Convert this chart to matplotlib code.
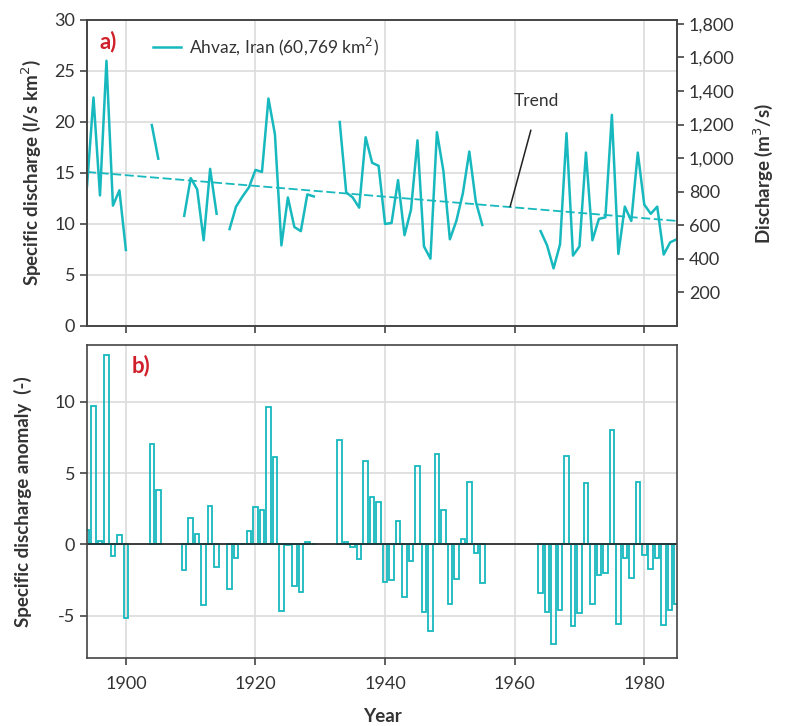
import numpy as np
import matplotlib
matplotlib.use("Agg")
import matplotlib.pyplot as plt
from matplotlib.ticker import FuncFormatter

plt.rcParams['font.family'] = ['Lato', 'DejaVu Sans']

years = list(range(1894, 1986))
nan = np.nan
specific_q = [13.7, 22.4, 12.8, 26.0, 11.8, 13.3, 7.45, nan, nan, nan,
              19.7, 16.4, nan, nan, nan, 10.8, 14.5, 13.4, 8.4, 15.4,
              11.0, nan, 9.5, 11.7, 12.7, 13.6, 15.3, 15.1, 22.3, 18.8,
              7.9, 12.6, 9.7, 9.3, 12.9, 12.7, nan, nan, nan, 20.0,
              13.1, 12.6, 11.6, 18.5, 16.0, 15.7, 10.0, 10.1, 14.3, 8.9,
              11.4, 18.2, 7.8, 6.6, 19.0, 15.2, 8.5, 10.3, 13.0, 17.1,
              12.2, 9.9, nan, nan, nan, nan, nan, nan, nan, nan,
              9.3, 7.9, 5.65, 8.0, 18.9, 6.9, 7.8, 17.0, 8.4, 10.5,
              10.65, 20.7, 7.06, 11.7, 10.3, 17.0, 11.9, 11.0, 11.7, 7.0,
              8.2, 8.5]
anomaly = [1.03, 9.67, 0.26, 13.3, -0.84, 0.65, -5.2, nan, nan, nan,
           7.03, 3.8, nan, nan, nan, -1.82, 1.82, 0.75, -4.23, 2.71,
           -1.61, nan, -3.15, -0.96, 0.05, 0.93, 2.64, 2.38, 9.63, 6.1,
           -4.7, -0.07, -2.9, -3.36, 0.19, 0.05, nan, nan, nan, 7.29,
           0.16, -0.19, -1.05, 5.84, 3.34, 2.97, -2.64, -2.52, 1.61, -3.67,
           -1.19, 5.49, -4.77, -6.07, 6.31, 2.43, -4.16, -2.41, 0.37, 4.39,
           -0.61, -2.73, nan, nan, nan, nan, nan, nan, nan, nan,
           -3.39, -4.77, -7.0, -4.63, 6.19, -5.72, -4.79, 4.3, -4.21, -2.17,
           -2.03, 7.99, -5.56, -0.96, -2.34, 4.37, -0.77, -1.73, -0.98, -5.63,
           -4.58, -4.18]
trend_years = [1894, 1985]
trend_values = [15.1, 10.3]
basin_area_km2 = 60769
station_label = "Ahvaz, Iran (60,769 km$^{2}$)"
xticks = [1900, 1920, 1940, 1960, 1980]

CYAN = '#17B9BE'
TXT = '#333333'
SPINE = '#444444'
GRID = '#DCDCDC'

fig = plt.figure(figsize=(7.99, 7.26), dpi=100)
ax1 = fig.add_axes([0.1089, 0.5510, 0.7384, 0.4215])
ax2 = fig.add_axes([0.1089, 0.0932, 0.7384, 0.4320])

for ax in (ax1, ax2):
    ax.set_xlim(1894, 1985.05)
    ax.set_xticks(xticks)
    ax.grid(True, color=GRID, linewidth=1.2)
    ax.set_axisbelow(True)
    for s in ax.spines.values():
        s.set_color(SPINE)
        s.set_linewidth(1.2)
    ax.tick_params(direction='out', length=5, width=1.2, color=SPINE,
                   labelcolor=TXT, labelsize=13)

# Top panel
ax1.plot(years, specific_q, color=CYAN, linewidth=1.8, label=station_label)
ax1.plot(trend_years, trend_values, color=CYAN, linewidth=1.3,
         linestyle=(0, (5, 2)))
ax1.set_ylim(0, 30)
ax1.set_yticks(range(0, 31, 5))
ax1.tick_params(axis='x', labelbottom=False)
ax1.set_ylabel('Specific discharge (l/s km$^{2}$)', fontsize=13.5,
               fontweight='bold', color=TXT, labelpad=8)
leg = ax1.legend(loc='upper left', bbox_to_anchor=(0.085, 1.0), frameon=False,
                 fontsize=12.5, handlelength=1.6, handletextpad=0.5)
for t in leg.get_texts():
    t.set_color(TXT)
ax1.text(0.022, 0.93, 'a)', transform=ax1.transAxes, color='#D0202A',
         fontsize=16, fontweight='bold', va='center')
ax1.annotate('', xy=(1959.3, 11.7), xytext=(1962.5, 19.2),
             arrowprops=dict(arrowstyle='-', color='#222222', lw=1.1,
                             shrinkA=0, shrinkB=0))
ax1.text(1963.4, 21.3, 'Trend', fontsize=12.5, color=TXT, ha='center',
         va='bottom')

ax1r = ax1.twinx()
ax1r.set_ylim(0, 30 * basin_area_km2 / 1000)
ax1r.set_yticks(range(200, 1801, 200))
ax1r.yaxis.set_major_formatter(FuncFormatter(lambda v, p: f'{int(v):,}'))
ax1r.tick_params(direction='out', length=5, width=1.2, color=SPINE,
                 labelcolor=TXT, labelsize=13)
for s in ax1r.spines.values():
    s.set_color(SPINE)
    s.set_linewidth(1.2)
ax1r.set_ylabel('Discharge (m$^{3}$/s)', fontsize=13.5, fontweight='bold',
                color=TXT, labelpad=12)

# Bottom panel
ax2.bar(years, anomaly, width=0.7, facecolor='none', edgecolor=CYAN,
        linewidth=1.3)
ax2.axhline(0, color='#222222', linewidth=1.2)
ax2.set_ylim(-8, 14)
ax2.set_yticks([-5, 0, 5, 10])
ax2.set_yticklabels(['-5', '0', '5', '10'])
ax2.set_ylabel('Specific discharge anomaly  (-)', fontsize=13.5,
               fontweight='bold', color=TXT, labelpad=16)
ax2.set_xlabel('Year', fontsize=13.5, fontweight='bold', color=TXT, labelpad=11)
ax2.tick_params(axis='x', pad=8)
ax2.text(0.076, 0.935, 'b)', transform=ax2.transAxes, color='#D0202A',
         fontsize=16, fontweight='bold', va='center')

fig.savefig('out.png', dpi=100)
